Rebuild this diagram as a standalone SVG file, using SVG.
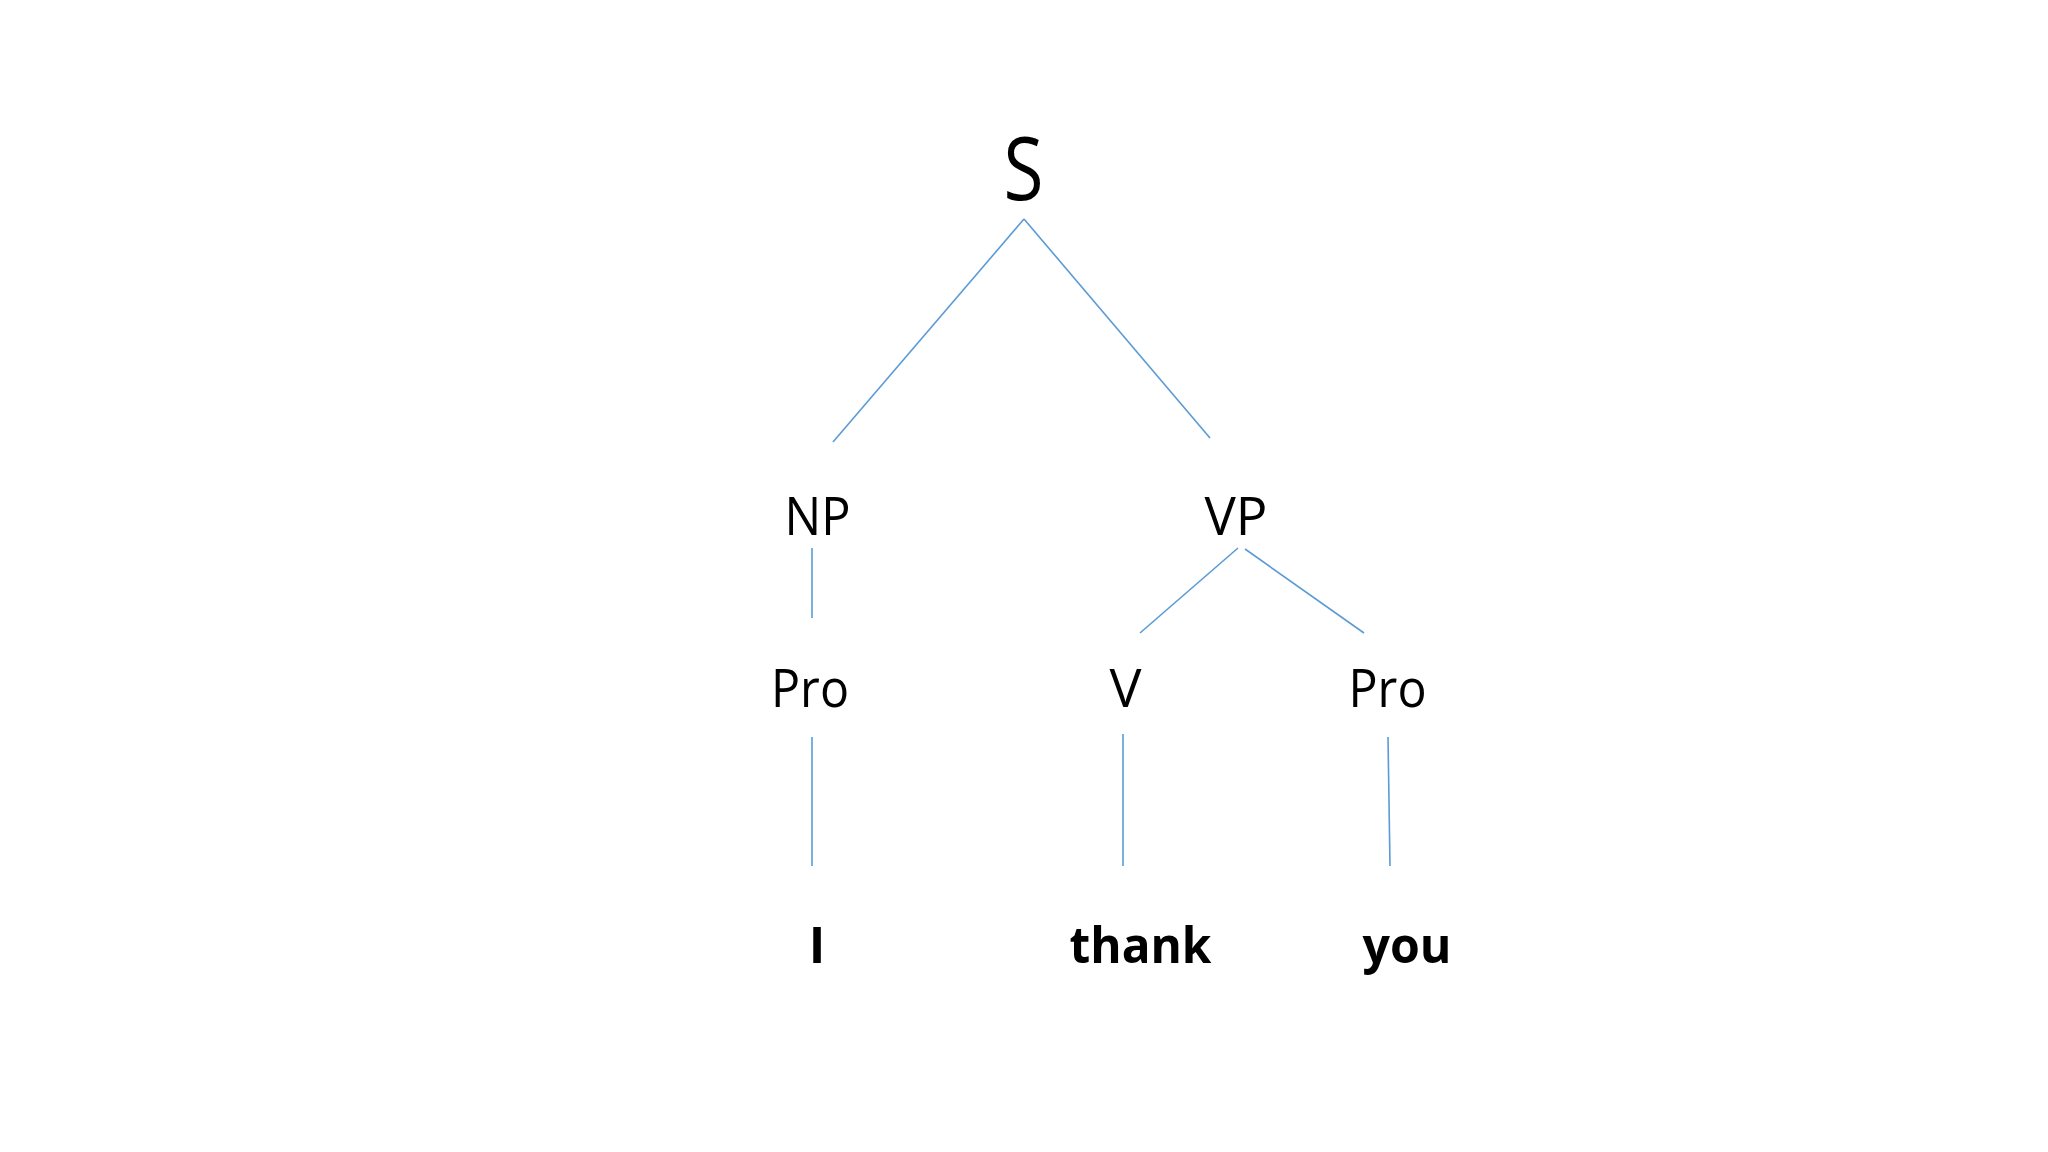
<svg xmlns="http://www.w3.org/2000/svg" width="2048" height="1152" viewBox="0 0 2048 1152">
<style>
.lbl{font-family:"Open Sans","Noto Sans","Liberation Sans",sans-serif;fill:#000;text-anchor:middle}
.w{font-family:"Open Sans","Noto Sans","Liberation Sans",sans-serif;font-weight:bold;fill:#000;text-anchor:middle}
.e{stroke:#5b9bd5;stroke-width:1.6;fill:none}
</style>
<rect width="2048" height="1152" fill="#fff"/>
<g id="connectors">
<line class="e" x1="1024" y1="219" x2="833" y2="442"/>
<line class="e" x1="1024" y1="219" x2="1210" y2="438"/>
<line class="e" x1="812" y1="548" x2="812" y2="618"/>
<line class="e" x1="1238" y1="548" x2="1140" y2="633"/>
<line class="e" x1="1245" y1="549" x2="1364" y2="633"/>
<line class="e" x1="812" y1="737" x2="812" y2="866"/>
<line class="e" x1="1123" y1="734" x2="1123" y2="866"/>
<line class="e" x1="1388" y1="737" x2="1390" y2="866"/>
</g>
<g id="S"><text class="lbl" x="1023.5" y="200" font-size="87" textLength="40" lengthAdjust="spacingAndGlyphs">S</text></g>
<g id="NP"><text class="lbl" x="817.5" y="535" font-size="53" textLength="66" lengthAdjust="spacingAndGlyphs">NP</text></g>
<g id="VP"><text class="lbl" x="1236" y="535" font-size="53" textLength="63" lengthAdjust="spacingAndGlyphs">VP</text></g>
<g id="Pro1"><text class="lbl" x="810" y="707" font-size="53" textLength="78" lengthAdjust="spacingAndGlyphs">Pro</text></g>
<g id="V"><text class="lbl" x="1125.5" y="707" font-size="53" textLength="32" lengthAdjust="spacingAndGlyphs">V</text></g>
<g id="Pro2"><text class="lbl" x="1387.5" y="707" font-size="53" textLength="78" lengthAdjust="spacingAndGlyphs">Pro</text></g>
<g id="I"><text class="w" x="817" y="963" font-size="50">I</text></g>
<g id="thank"><text class="w" x="1140.5" y="963" font-size="50" textLength="142" lengthAdjust="spacingAndGlyphs">thank</text></g>
<g id="you"><text class="w" x="1407" y="963" font-size="50" textLength="89" lengthAdjust="spacingAndGlyphs">you</text></g>
</svg>
